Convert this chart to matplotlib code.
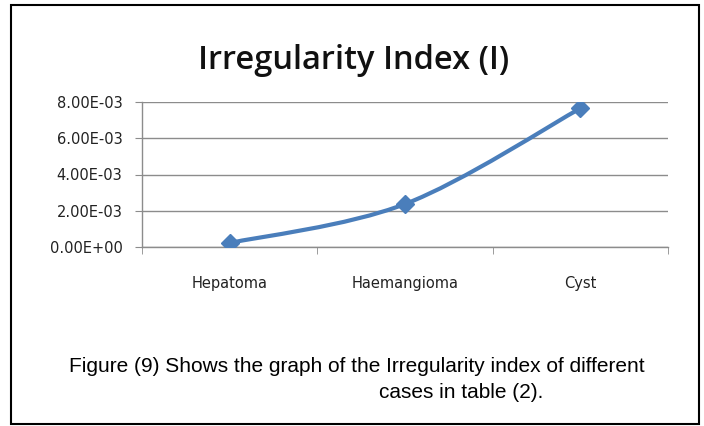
import numpy as np
import matplotlib
matplotlib.use("Agg")
import matplotlib.pyplot as plt
from matplotlib.path import Path
from matplotlib.patches import PathPatch, Rectangle

# datos
cases = ["Hepatoma", "Haemangioma", "Cyst"]
irregularity = [0.22e-3, 2.37e-3, 7.65e-3]
yticks = [0, 2e-3, 4e-3, 6e-3, 8e-3]
ytick_labels = ["0.00E+00", "2.00E-03", "4.00E-03", "6.00E-03", "8.00E-03"]

blue = "#4a7ebb"
grid_gray = "#8c8c8c"

fig = plt.figure(figsize=(7.04, 4.26), dpi=100)
W, H = 704, 426
ax = fig.add_axes([142 / W, 1 - 247 / H, 526 / W, 145 / H])

x = np.arange(len(cases))
y = np.array(irregularity)

# curva suavizada tipo Excel (Catmull-Rom -> Bezier)
P = np.column_stack([x, y])
Pext = np.vstack([P[0], P, P[-1]])
verts = [tuple(P[0])]
codes = [Path.MOVETO]
for i in range(len(P) - 1):
    p0, p1, p2, p3 = Pext[i], Pext[i + 1], Pext[i + 2], Pext[i + 3]
    c1 = p1 + (p2 - p0) / 6
    c2 = p2 - (p3 - p1) / 6
    verts += [tuple(c1), tuple(c2), tuple(p2)]
    codes += [Path.CURVE4] * 3
ax.add_patch(PathPatch(Path(verts, codes), fill=False, edgecolor=blue,
                       lw=3, capstyle="round", zorder=3))
ax.plot(x, y, linestyle="none", marker="D", markersize=9.5, color=blue, zorder=4)

ax.set_xlim(-0.5, 2.5)
ax.set_ylim(0, 8e-3)
ax.set_yticks(yticks)
ax.set_yticklabels(ytick_labels, fontsize=10.5, family="DejaVu Sans", color="#222222")
ax.set_xticks(x)
ax.set_xticklabels(cases, fontsize=10.5, family="DejaVu Sans", color="#222222")
ax.set_xticks([-0.5, 0.5, 1.5, 2.5], minor=True)
ax.tick_params(axis="x", which="major", length=0, pad=21)
ax.tick_params(axis="x", which="minor", length=5, color=grid_gray, direction="out")
ax.tick_params(axis="y", length=5, color=grid_gray, direction="out", pad=9)
ax.yaxis.grid(True, color=grid_gray, lw=1)
ax.set_axisbelow(True)
for s in ["top", "right"]:
    ax.spines[s].set_visible(False)
for s in ["left", "bottom"]:
    ax.spines[s].set_color(grid_gray)
    ax.spines[s].set_linewidth(1)

fig.text(354 / W, 1 - 69 / H, "Irregularity Index (I)", ha="center", va="baseline",
         fontsize=23.5, family="Open Sans", weight="semibold", color="#111111")
cap = ["Liberation Sans", "DejaVu Sans"]
fig.text(357 / W, 1 - 367 / H,
         "Figure (9) Shows the graph of the Irregularity index of different",
         ha="center", va="center", fontsize=15, family=cap)
fig.text(461 / W, 1 - 393 / H, "cases in table (2).", ha="center", va="center",
         fontsize=15, family=cap)

fig.patches.append(Rectangle((11 / W, 1 - 424 / H), 688 / W, 419 / H,
                             transform=fig.transFigure, fill=False,
                             edgecolor="black", lw=1.5))

fig.savefig("out.png", dpi=100)
